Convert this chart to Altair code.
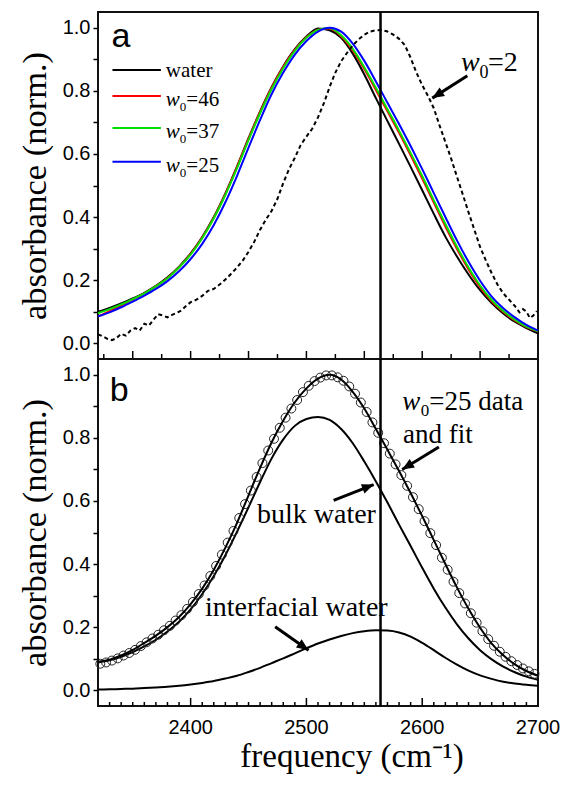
import altair as alt
import pandas as pd

# ---------------- data ----------------
FREQ = [2320, 2330, 2340, 2350, 2360, 2370, 2380, 2390, 2400, 2410,
        2420, 2430, 2440, 2450, 2460, 2470, 2480, 2490, 2500, 2510,
        2520, 2530, 2540, 2550, 2560, 2570, 2580, 2590, 2600, 2610,
        2620, 2630, 2640, 2650, 2660, 2670, 2680, 2690, 2700]

WATER = [0.100, 0.112, 0.126, 0.142, 0.160, 0.182, 0.209, 0.243, 0.285, 0.337,
         0.400, 0.475, 0.560, 0.650, 0.735, 0.812, 0.878, 0.932, 0.972, 0.998,
         0.992, 0.968, 0.918, 0.852, 0.777, 0.704, 0.632, 0.559, 0.485, 0.410,
         0.338, 0.275, 0.218, 0.168, 0.127, 0.094, 0.068, 0.048, 0.031]

W46 = [0.085, 0.102, 0.120, 0.138, 0.158, 0.180, 0.207, 0.241, 0.283, 0.335,
       0.398, 0.473, 0.558, 0.648, 0.733, 0.810, 0.876, 0.930, 0.970, 0.994,
       0.998, 0.973, 0.928, 0.869, 0.803, 0.735, 0.667, 0.596, 0.522, 0.446,
       0.370, 0.299, 0.234, 0.178, 0.133, 0.099, 0.072, 0.051, 0.038]

W37 = [0.095, 0.108, 0.123, 0.140, 0.158, 0.180, 0.206, 0.240, 0.281, 0.333,
       0.396, 0.470, 0.554, 0.644, 0.729, 0.806, 0.872, 0.927, 0.968, 0.993,
       0.999, 0.976, 0.933, 0.875, 0.810, 0.742, 0.674, 0.603, 0.530, 0.453,
       0.378, 0.306, 0.240, 0.183, 0.137, 0.102, 0.075, 0.053, 0.039]

W25 = [0.085, 0.098, 0.114, 0.132, 0.151, 0.172, 0.197, 0.228, 0.267, 0.315,
       0.375, 0.447, 0.530, 0.620, 0.708, 0.790, 0.858, 0.915, 0.958, 0.988,
       1.000, 0.988, 0.950, 0.895, 0.830, 0.762, 0.695, 0.625, 0.552, 0.476,
       0.400, 0.326, 0.258, 0.198, 0.148, 0.111, 0.082, 0.058, 0.040]

W2_FREQ = [2320, 2324, 2328, 2332, 2336, 2340, 2344, 2348, 2352, 2356,
           2360, 2364, 2368, 2372, 2376, 2380, 2384, 2388, 2392, 2396,
           2400, 2405, 2410, 2415, 2420, 2425, 2430, 2435, 2440, 2445,
           2450, 2455, 2460, 2465, 2470, 2475, 2480, 2485, 2490, 2495,
           2500, 2505, 2510, 2515, 2520, 2525, 2530, 2535, 2540, 2545,
           2550, 2555, 2560, 2565, 2570, 2575, 2580, 2585, 2590, 2595,
           2600, 2605, 2610, 2615, 2620, 2625, 2630, 2635, 2640, 2645,
           2650, 2655, 2660, 2665, 2670, 2675, 2680, 2684, 2687, 2690,
           2693, 2696, 2699]
W2_ABS = [0.028, 0.022, 0.014, 0.010, 0.016, 0.030, 0.024, 0.040, 0.048, 0.040,
          0.062, 0.056, 0.075, 0.092, 0.088, 0.082, 0.090, 0.096, 0.104, 0.118,
          0.130, 0.138, 0.150, 0.166, 0.172, 0.186, 0.202, 0.220, 0.240, 0.262,
          0.290, 0.322, 0.360, 0.392, 0.420, 0.458, 0.508, 0.552, 0.588, 0.628,
          0.655, 0.680, 0.716, 0.760, 0.812, 0.858, 0.894, 0.920, 0.944, 0.963,
          0.978, 0.988, 0.992, 0.993, 0.988, 0.978, 0.965, 0.945, 0.905, 0.858,
          0.818, 0.784, 0.745, 0.690, 0.638, 0.585, 0.528, 0.472, 0.415, 0.360,
          0.305, 0.262, 0.222, 0.186, 0.158, 0.138, 0.118, 0.098, 0.108, 0.100,
          0.080, 0.088, 0.102]

FIT = [0.090, 0.097, 0.110, 0.128, 0.150, 0.173, 0.200, 0.232, 0.273, 0.322,
       0.382, 0.452, 0.530, 0.618, 0.705, 0.786, 0.855, 0.913, 0.957, 0.988,
       1.000, 0.985, 0.946, 0.893, 0.828, 0.762, 0.695, 0.625, 0.552, 0.476,
       0.400, 0.326, 0.258, 0.198, 0.148, 0.111, 0.082, 0.061, 0.046]

BULK = [0.088, 0.095, 0.106, 0.121, 0.139, 0.160, 0.186, 0.217, 0.256, 0.305,
        0.362, 0.428, 0.502, 0.580, 0.660, 0.735, 0.795, 0.838, 0.860, 0.866,
        0.857, 0.828, 0.783, 0.725, 0.662, 0.595, 0.525, 0.457, 0.388, 0.322,
        0.262, 0.209, 0.164, 0.127, 0.098, 0.075, 0.057, 0.043, 0.033]

INTERFACIAL = [0.002, 0.003, 0.004, 0.005, 0.007, 0.009, 0.011, 0.014, 0.018, 0.023,
               0.029, 0.037, 0.046, 0.058, 0.071, 0.086, 0.101, 0.117, 0.133, 0.148,
               0.161, 0.172, 0.181, 0.187, 0.190, 0.189, 0.183, 0.170, 0.150, 0.127,
               0.103, 0.081, 0.062, 0.047, 0.036, 0.027, 0.021, 0.017, 0.014]

DATA_FREQ = [2322, 2327, 2332, 2337, 2342, 2347, 2352, 2357, 2362, 2367,
             2372, 2377, 2382, 2387, 2392, 2397, 2402, 2407, 2412, 2417,
             2422, 2427, 2432, 2437, 2442, 2447, 2452, 2457, 2462, 2467,
             2472, 2477, 2482, 2487, 2492, 2497, 2502, 2507, 2512, 2517,
             2522, 2527, 2532, 2537, 2542, 2547, 2552, 2557, 2562, 2567,
             2572, 2577, 2582, 2587, 2592, 2597, 2602, 2607, 2612, 2617,
             2622, 2627, 2632, 2637, 2642, 2647, 2652, 2657, 2662, 2667,
             2672, 2677, 2682, 2687, 2692, 2697]
DATA_ABS = [0.084, 0.088, 0.094, 0.101, 0.110, 0.118, 0.128, 0.140, 0.152, 0.164,
            0.176, 0.190, 0.204, 0.221, 0.238, 0.258, 0.280, 0.305, 0.332, 0.362,
            0.394, 0.430, 0.468, 0.505, 0.546, 0.590, 0.633, 0.676, 0.720, 0.760,
            0.797, 0.832, 0.864, 0.893, 0.920, 0.945, 0.965, 0.980, 0.991, 0.998,
            0.998, 0.992, 0.981, 0.963, 0.940, 0.912, 0.882, 0.849, 0.816, 0.783,
            0.750, 0.716, 0.682, 0.648, 0.612, 0.574, 0.536, 0.498, 0.460, 0.420,
            0.382, 0.344, 0.308, 0.275, 0.244, 0.214, 0.187, 0.162, 0.141, 0.122,
            0.106, 0.092, 0.080, 0.069, 0.060, 0.052]

MARKER_FREQ = [2564]
X_DOMAIN = [2320, 2700]
Y_DOMAIN = [-0.05, 1.05]
Y_TICKS = [0.0, 0.1, 0.2, 0.3, 0.4, 0.5, 0.6, 0.7, 0.8, 0.9, 1.0]
X_LABELS = [2400, 2500, 2600, 2700]
A_TICKS_MAJOR = [2350, 2400, 2450, 2500, 2550, 2600, 2650]
A_TICKS_MINOR = [2325, 2375, 2425, 2475, 2525, 2575, 2625, 2675]
B_TICKS_MAJOR = [2400, 2500, 2600]
B_TICKS_MINOR = [2330, 2340, 2350, 2360, 2370, 2380, 2390,
                 2410, 2420, 2430, 2440, 2450, 2460, 2470, 2480, 2490,
                 2510, 2520, 2530, 2540, 2550, 2560, 2570, 2580, 2590,
                 2610, 2620, 2630, 2640, 2650, 2660, 2670, 2680, 2690]

SERIES_NAMES = ["water", "w0=46", "w0=37", "w0=25"]
SERIES_COLORS = ["#000000", "#ff0000", "#00e000", "#0000ff"]
SERIES_VALUES = [WATER, W46, W37, W25]

# ---------------- chart ----------------
W, H = 440, 347
SERIF = "Liberation Serif"
SANS = "Liberation Sans"

xs = alt.Scale(domain=X_DOMAIN, nice=False, zero=False)
ys = alt.Scale(domain=Y_DOMAIN, nice=False, zero=False)
color_scale = alt.Scale(domain=SERIES_NAMES, range=SERIES_COLORS)

y_axis = alt.Axis(
    values=Y_TICKS,
    labelExpr="round(datum.value*10) % 2 == 0 ? format(datum.value, '.1f') : ''",
    tickSize=5, tickWidth=1.5, tickColor="black",
    domain=False, grid=False,
    labelFont=SANS, labelFontSize=20, labelColor="black", labelPadding=3,
    title="absorbance (norm.)", titleFont=SERIF, titleFontSize=34.5,
    titleFontWeight="normal", titleColor="black", titlePadding=10,
)


def X(field):
    return alt.X(f"{field}:Q", scale=xs, axis=None)


def Y(field):
    return alt.Y(f"{field}:Q", scale=ys, axis=y_axis)


def text_layer(x, y, text, size, dx=0, dy=0, italic=False, font=SERIF):
    df = pd.DataFrame({"freq": [x], "absorbance": [y], "t": [text]})
    return alt.Chart(df).mark_text(
        align="left", baseline="alphabetic", font=font, fontSize=size,
        fontStyle="italic" if italic else "normal", dx=dx, dy=dy, color="black",
    ).encode(x=X("freq"), y=Y("absorbance"), text="t:N")


def w0_label(x, y, rest, size, sub_size, sub_dx, rest_dx, sub_dy, base_dy=0):
    return [
        text_layer(x, y, "w", size, dx=0, dy=base_dy, italic=True),
        text_layer(x, y, "0", sub_size, dx=sub_dx, dy=base_dy + sub_dy),
        text_layer(x, y, rest, size, dx=rest_dx, dy=base_dy),
    ]


ARROW_PATH = "M0,0L-0.42,1L0.42,1Z"


def arrow_layers(x1, y1, x2, y2, angle):
    df = pd.DataFrame({"freq": [x1], "absorbance": [y1], "freq2": [x2], "absorbance2": [y2]})
    shaft = alt.Chart(df).mark_rule(color="black", strokeWidth=3).encode(
        x=X("freq"), y=Y("absorbance"), x2="freq2:Q", y2="absorbance2:Q")
    hdf = pd.DataFrame({"freq": [x2], "absorbance": [y2], "ang": [angle]})
    head = alt.Chart(hdf).mark_point(
        shape=ARROW_PATH, filled=True, color="black", opacity=1, size=560, strokeWidth=0
    ).encode(x=X("freq"), y=Y("absorbance"), angle=alt.Angle("ang:Q", scale=None))
    return [shaft, head]


def tick_layer(values, length):
    df = pd.DataFrame({"freq": values})
    return alt.Chart(df).mark_rule(color="black", strokeWidth=1.5).encode(
        x=X("freq"), y=alt.value(H), y2=alt.value(H - length))


def vline():
    df = pd.DataFrame({"freq": MARKER_FREQ})
    return alt.Chart(df).mark_rule(color="black", strokeWidth=2.5).encode(
        x=X("freq"), y=alt.value(0), y2=alt.value(H))


FRAME = alt.ViewBackground(stroke="#111111", strokeWidth=2, fill="white")

# ---- panel a ----
rows = []
for name, vals in zip(SERIES_NAMES, SERIES_VALUES):
    for f, v in zip(FREQ, vals):
        rows.append({"freq": f, "absorbance": v, "series": name})
df_a = pd.DataFrame(rows)

lines_a = alt.Chart(df_a).mark_line(strokeWidth=2, interpolate="monotone").encode(
    x=X("freq"), y=Y("absorbance"),
    color=alt.Color("series:N", scale=color_scale, legend=None),
    detail="series:N", order="freq:Q",
)
df_w2 = pd.DataFrame({"freq": W2_FREQ, "absorbance": W2_ABS})
dotted = alt.Chart(df_w2).mark_line(strokeWidth=2, strokeDash=[4, 3], color="black").encode(
    x=X("freq"), y=Y("absorbance"))

# legend (drawn as annotation)
LEG_X = [2332.5, 2374.3]
LEG_Y = [0.866, 0.784, 0.682, 0.575]
df_leg = pd.DataFrame({"freq": [LEG_X[0]] * 4, "freq2": [LEG_X[1]] * 4,
                       "absorbance": LEG_Y, "series": SERIES_NAMES})
leg_rules = alt.Chart(df_leg).mark_rule(strokeWidth=2).encode(
    x=X("freq"), x2="freq2:Q", y=Y("absorbance"),
    color=alt.Color("series:N", scale=color_scale, legend=None))

layers_a = [lines_a, dotted, vline(), leg_rules,
            tick_layer(A_TICKS_MAJOR, 8), tick_layer(A_TICKS_MINOR, 5),
            text_layer(2331.6, 0.94, "a", 34, font=SANS),
            text_layer(2378.6, LEG_Y[0], "water", 21, dy=7)]
for yv, num in zip(LEG_Y[1:], ["=46", "=37", "=25"]):
    layers_a += w0_label(2378.6, yv, num, 21, 13, 14, 20.5, 5, base_dy=10)
layers_a += w0_label(2633.5, 0.863, "=2", 28, 18, 18.5, 27, 7)
layers_a += arrow_layers(2639, 0.848, 2608.7, 0.777, 237.5)
panel_a = alt.layer(*layers_a).properties(width=W, height=H, view=FRAME)

# ---- panel b ----
df_b = pd.DataFrame({"freq": FREQ, "fit": FIT, "bulk": BULK, "inter": INTERFACIAL})


def curve(col):
    d = df_b[["freq", col]].rename(columns={col: "absorbance"})
    return alt.Chart(d).mark_line(strokeWidth=2, color="black", interpolate="monotone").encode(
        x=X("freq"), y=Y("absorbance"))


df_pts = pd.DataFrame({"freq": DATA_FREQ, "absorbance": DATA_ABS})
circles = alt.Chart(df_pts).mark_point(
    shape="circle", filled=False, color="#222222", size=80, strokeWidth=1, opacity=1
).encode(x=X("freq"), y=Y("absorbance"))

# x tick labels and x title (drawn below panel b through the x scale)
df_xl = pd.DataFrame({"freq": X_LABELS, "t": [str(v) for v in X_LABELS]})
x_labels = alt.Chart(df_xl).mark_text(
    font=SANS, fontSize=20, color="black", align="center", baseline="alphabetic"
).encode(x=X("freq"), y=alt.value(H + 28), text="t:N")
x_title = alt.Chart(pd.DataFrame({"t": ["frequency (cm⁻¹)"]})).mark_text(
    font=SERIF, fontSize=33, color="black", align="center", baseline="alphabetic"
).encode(x=alt.value(254), y=alt.value(H + 61), text="t:N")

layers_b = [curve("inter"), curve("bulk"), circles, curve("fit"), vline(),
            tick_layer(B_TICKS_MAJOR, 8), tick_layer(B_TICKS_MINOR, 4),
            x_labels, x_title,
            text_layer(2330.1, 0.916, "b", 34, font=SANS),
            text_layer(2583.5, 0.783, "and fit", 27),
            text_layer(2457.3, 0.530, "bulk water", 28),
            text_layer(2412.4, 0.235, "interfacial water", 28)]
layers_b += w0_label(2582.7, 0.887, "=25 data", 27, 17, 18.5, 27, 6)
layers_b += arrow_layers(2614.4, 0.771, 2582.7, 0.700, 238.3)
layers_b += arrow_layers(2523.5, 0.602, 2558.1, 0.652, 68.6)
layers_b += arrow_layers(2473.0, 0.201, 2501.8, 0.127, 125.0)
panel_b = alt.layer(*layers_b).properties(width=W, height=H, view=FRAME)

chart = alt.vconcat(panel_a, panel_b, spacing=0, bounds="flush").properties(
    padding={"left": 8, "top": 1, "right": 0, "bottom": 0},
    background="white",
).configure_view(stroke="#111111", strokeWidth=2)

chart.save("out.html", embed_options={"renderer": "svg", "actions": False})
